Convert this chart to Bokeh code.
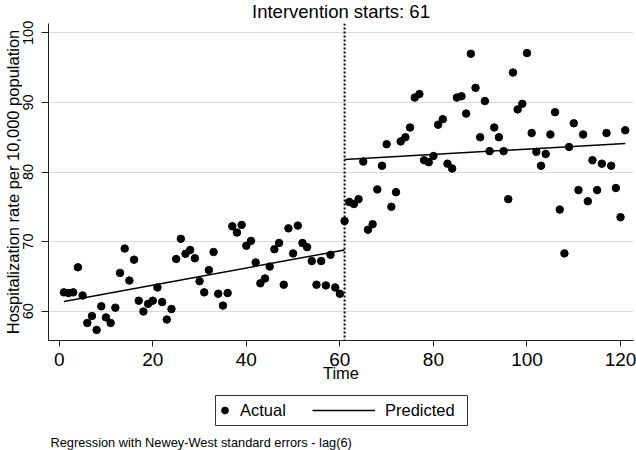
from bokeh.plotting import figure
from bokeh.layouts import column
from bokeh.models import (Range1d, FixedTicker, Span, Legend, LegendItem,
                          BoxAnnotation, Label)
from bokeh.embed import file_html
from bokeh.resources import INLINE

# ---------------- data ----------------
time = list(range(1, 122))
actual = [
    62.7, 62.6, 62.7, 66.3, 62.25, 58.3, 59.3, 57.3, 60.7, 59.1,
    58.3, 60.5, 65.5, 69.0, 64.4, 67.4, 61.5, 59.95, 61.05, 61.5,
    63.4, 61.3, 58.8, 60.3, 67.5, 70.4, 68.25, 68.8, 67.6, 64.3,
    62.7, 65.9, 68.5, 62.5, 60.8, 62.6, 72.2, 71.3, 72.4, 69.4,
    70.1, 67.0, 64.0, 64.7, 66.4, 68.9, 69.8, 63.8, 71.9, 68.3,
    72.3, 69.8, 69.2, 67.2, 63.8, 67.2, 63.7, 68.1, 63.4, 62.5,
    72.95, 75.7, 75.4, 76.1, 81.5, 71.7, 72.5, 77.5, 80.9, 84.0,
    75.0, 77.1, 84.4, 85.0, 86.4, 90.7, 91.2, 81.7, 81.4, 82.3,
    86.8, 87.6, 81.2, 80.5, 90.7, 90.9, 88.4, 97.0, 92.1, 85.0,
    90.2, 83.0, 86.4, 85.0, 83.0, 76.1, 94.3, 89.0, 89.8, 97.1,
    85.6, 82.9, 80.9, 82.6, 85.4, 88.6, 74.6, 68.3, 83.6, 87.0,
    77.4, 85.4, 75.8, 81.7, 77.4, 81.2, 85.6, 80.9, 77.7, 73.5, 86.0,
]
pred_pre_time = [1, 61]
pred_pre = [61.4, 68.8]
pred_post_time = [61, 121]
pred_post = [81.8, 84.1]
intervention = 61
x_ticks = [0, 20, 40, 60, 80, 100, 120]
y_ticks = [60, 70, 80, 90, 100]

title_text = "Intervention starts: 61"
x_label = "Time"
y_label = "Hospitalization rate per 10,000 population"
legend_labels = ["Actual", "Predicted"]
note_text = "Regression with Newey-West standard errors - lag(6)"

FONT = "Liberation Sans"
INK = "#000000"

# ---------------- main plot ----------------
p = figure(width=636, height=388, output_backend="svg", toolbar_location=None,
           x_range=Range1d(-2.29, 122.77), y_range=Range1d(55.78, 101.35),
           min_border_left=48, min_border_right=3, min_border_top=23,
           min_border_bottom=48)

p.title.text = title_text
p.title.text_font = FONT
p.title.text_font_size = "18.5px"
p.title.text_font_style = "normal"
p.title.align = "center"
p.title.vertical_align = "top"
p.title.standoff = 0
p.title.text_color = INK

p.outline_line_color = None
p.background_fill_color = "white"
p.border_fill_color = "white"

p.xgrid.visible = False
p.ygrid.grid_line_color = "#dadada"
p.ygrid.grid_line_width = 1
p.ygrid.ticker = FixedTicker(ticks=y_ticks)

xa = p.xaxis[0]
xa.ticker = FixedTicker(ticks=x_ticks)
xa.axis_label = x_label
xa.axis_label_text_font = FONT
xa.axis_label_text_font_size = "16.5px"
xa.axis_label_text_font_style = "normal"
xa.axis_label_text_color = INK
xa.axis_label_standoff = -5
xa.major_label_text_font = FONT
xa.major_label_text_font_size = "19px"
xa.major_label_text_color = INK
xa.major_label_standoff = 6
xa.major_tick_out = 6
xa.major_tick_in = 0
xa.minor_tick_out = 0
xa.minor_tick_in = 0
xa.axis_line_color = "#222222"
xa.major_tick_line_color = "#222222"

ya = p.yaxis[0]
ya.ticker = FixedTicker(ticks=y_ticks)
ya.axis_label = y_label
ya.axis_label_text_font = FONT
ya.axis_label_text_font_size = "16.5px"
ya.axis_label_text_font_style = "normal"
ya.axis_label_text_color = INK
ya.axis_label_standoff = -1
ya.major_label_text_font = FONT
ya.major_label_text_font_size = "14.5px"
ya.major_label_text_color = INK
ya.major_label_orientation = "vertical"
ya.major_label_standoff = 8
ya.major_tick_out = 7
ya.major_tick_in = 0
ya.minor_tick_out = 0
ya.minor_tick_in = 0
ya.axis_line_color = "#222222"
ya.major_tick_line_color = "#222222"

p.scatter(time, actual, size=7.5, color=INK)
p.line(pred_pre_time, pred_pre, line_color=INK, line_width=1.5)
p.line(pred_post_time, pred_post, line_color=INK, line_width=1.5)
p.add_layout(Span(location=intervention, dimension="height",
                  line_color=INK, line_width=2, line_dash="2 2"))

# ---------------- legend + note strip (frame aligned with main: x 48..633 px) ----------------
q = figure(width=636, height=62, output_backend="svg", toolbar_location=None,
           x_range=Range1d(48, 633), y_range=Range1d(0, 62),
           x_axis_location=None, y_axis_location=None,
           min_border_left=48, min_border_right=3,
           min_border_top=0, min_border_bottom=0)
q.outline_line_color = None
q.grid.visible = False
q.background_fill_color = "white"
q.border_fill_color = "white"

# hidden copies of the series, used only as legend keys
key_pts = q.scatter(time, actual, size=7.5, color=INK, visible=False)
key_line = q.line(pred_post_time, pred_post, line_color=INK, line_width=1.5,
                  visible=False)

leg_a = Legend(items=[LegendItem(label=legend_labels[0], renderers=[key_pts])],
               location=(168, 30), orientation="horizontal",
               glyph_width=17, glyph_height=20, label_height=20,
               label_standoff=7, padding=0, margin=0,
               border_line_color=None, background_fill_alpha=0,
               label_text_font=FONT, label_text_font_size="16.5px",
               label_text_color=INK)
leg_b = Legend(items=[LegendItem(label=legend_labels[1], renderers=[key_line])],
               location=(264, 30), orientation="horizontal",
               glyph_width=63, glyph_height=20, label_height=20,
               label_standoff=10, padding=0, margin=0,
               border_line_color=None, background_fill_alpha=0,
               label_text_font=FONT, label_text_font_size="16.5px",
               label_text_color=INK)
q.add_layout(leg_a, "center")
q.add_layout(leg_b, "center")

q.add_layout(BoxAnnotation(left=215, right=467, bottom=25, top=55,
                           fill_alpha=0, line_color="#333333", line_width=1,
                           line_alpha=1))

q.add_layout(Label(x=50, y=8, text=note_text, text_font=FONT,
                   text_font_size="12.8px", text_color=INK,
                   text_baseline="alphabetic", text_align="left"))

layout = column(p, q, spacing=0)
open("out.html", "w").write(file_html(layout, INLINE))
